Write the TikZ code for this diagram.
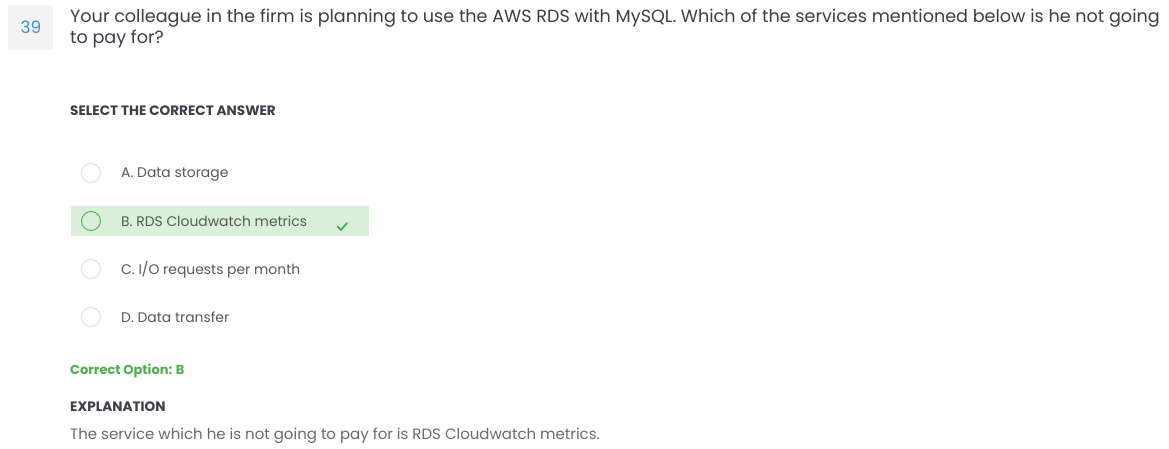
\documentclass[tikz,border=0pt]{standalone}
\usepackage{fontspec}
\setmainfont{Poppins}
\definecolor{qtext}{HTML}{3A3F48}
\definecolor{otext}{HTML}{585858}
\definecolor{etext}{HTML}{6A6A6A}
\definecolor{okgreen}{HTML}{4DB04D}
\definecolor{hlgreen}{HTML}{DAF0DA}
\definecolor{numblue}{HTML}{3F8FE0}
\definecolor{numbg}{HTML}{F4F4F4}
\definecolor{ringgray}{HTML}{DDDDDD}
\tikzset{
  qline/.style={anchor=base west, inner sep=0pt, text=qtext, font=\fontsize{17.6}{20}\selectfont},
  head/.style={anchor=base west, inner sep=0pt, text=qtext, font=\fontsize{13.6}{16}\selectfont\bfseries},
  opt/.style={anchor=base west, inner sep=0pt, text=otext, font=\fontsize{13.9}{16}\selectfont},
  ring/.style={circle, draw=ringgray, line width=0.9pt, minimum size=19pt, inner sep=0pt},
  okring/.style={ring, draw=okgreen},
}
\begin{document}
\begin{tikzpicture}[x=1pt,y=-1pt]
\useasboundingbox[fill=white] (0,0) rectangle (1169,449);
% number badge
\fill[numbg] (8,5) rectangle (53,50);
\node[text=numblue, font=\fontsize{17}{19}\selectfont, inner sep=0pt] (num) at (31,27) {39};
% question
\node[qline] (q1) at (70,22.5) {Your colleague in the firm is planning to use the AWS RDS with MySQL. Which of the services mentioned below is he not going};
\node[qline] (q2) at (70,44) {to pay for?};
\node[head] (sel) at (70,116) {SELECT THE CORRECT ANSWER};
% highlight
\fill[hlgreen] (71,206) rectangle (369,236);
% options
\node[ring] (ra) at (91,173) {};
\node[okring] (rb) at (91,221) {};
\node[ring] (rc) at (91,269) {};
\node[ring] (rd) at (91,317) {};
\node[opt] (oa) at (121,178) {A. Data storage};
\node[opt] (ob) at (121,226) {B. RDS Cloudwatch metrics};
\node[opt] (oc) at (121,274) {C. I/O requests per month};
\node[opt] (od) at (121,322) {D. Data transfer};
% check mark
\coordinate (ck1) at (337.5,226.5);
\coordinate (ck2) at (341,230);
\coordinate (ck3) at (347,223);
\draw[okgreen, line width=1.8pt, line cap=round, line join=round] (ck1) -- (ck2) -- (ck3);
% answer
\node[anchor=base west, inner sep=0pt, text=okgreen, font=\fontsize{13}{15}\selectfont\bfseries] (co) at (70,374) {Correct Option: B};
\node[head] (ex) at (70,411) {EXPLANATION};
\node[anchor=base west, inner sep=0pt, text=etext, font=\fontsize{15}{18}\selectfont] (et) at (70,439) {The service which he is not going to pay for is RDS Cloudwatch metrics.};
\end{tikzpicture}
\end{document}
